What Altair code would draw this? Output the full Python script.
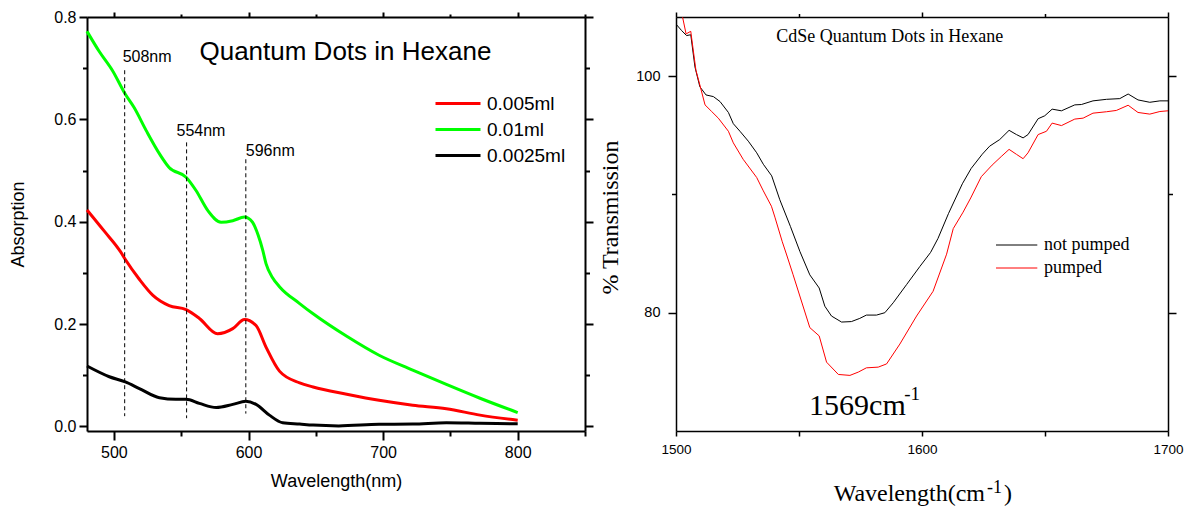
import altair as alt
import pandas as pd

# ---------------- left panel: absorption spectra ----------------
series_left = ["0.005ml", "0.01ml", "0.0025ml"]
colors_left = ["#ff0000", "#00ff00", "#000000"]

wl_red = [480, 493, 505, 508.5, 519, 529, 541, 553.6, 563.5, 577, 588.3, 597, 605.6, 613, 623, 638, 648, 673, 697, 722, 747, 772, 800]
abs_red = [0.423, 0.381, 0.341, 0.326, 0.287, 0.256, 0.236, 0.228, 0.211, 0.181, 0.191, 0.209, 0.197, 0.155, 0.108, 0.085, 0.077, 0.063, 0.051, 0.0415, 0.0345, 0.022, 0.012]

wl_green = [480, 489, 499, 508.5, 515, 524, 534, 541, 553.6, 561, 569.7, 579.6, 588.3, 597, 603, 607, 610.6, 613, 618, 623, 638, 648, 673, 697, 722, 747, 772, 800]
abs_green = [0.772, 0.733, 0.695, 0.649, 0.623, 0.578, 0.532, 0.506, 0.487, 0.461, 0.422, 0.399, 0.402, 0.409, 0.399, 0.375, 0.344, 0.318, 0.29, 0.273, 0.240, 0.220, 0.176, 0.139, 0.110, 0.082, 0.055, 0.027]

wl_black = [480, 496.6, 508.5, 518.9, 533.8, 546, 553.6, 563.5, 576, 588.3, 598, 605.6, 615.5, 625.4, 638, 648, 667, 697, 722, 747, 772, 800]
abs_black = [0.118, 0.097, 0.087, 0.074, 0.056, 0.053, 0.053, 0.045, 0.037, 0.043, 0.049, 0.043, 0.022, 0.007, 0.0045, 0.0025, 0.001, 0.004, 0.0045, 0.007, 0.006, 0.005]

peak_x = [508, 554, 598]
peak_top = [0.696, 0.555, 0.522]
peak_bottom = [0.02, 0.016, 0.025]
peak_labels = ["508nm", "554nm", "596nm"]
peak_label_x = [506.5, 546.5, 598]
peak_label_y = [0.713, 0.567, 0.528]

left_title = ["Quantum Dots in Hexane"]
left_title_x = [672]
left_title_y = [0.715]

# ---------------- right panel: transmission ----------------
series_right = ["not pumped", "pumped"]
colors_right = ["#000000", "#ff0000"]

wn_np = [1500, 1502.3, 1504.3, 1506, 1507.7, 1509.7, 1512.2, 1515.2, 1517.9, 1521.3, 1523.3, 1526, 1529.4, 1532.8, 1535.5,
         1538.9, 1542.2, 1546.5, 1550.4, 1554.4, 1558.2, 1560.5, 1563.2, 1567.3, 1571.3, 1574.7, 1577.4, 1581.5, 1584.9,
         1588.3, 1593.7, 1599.1, 1603.5, 1606.5, 1610.8, 1616.4, 1620, 1624.5, 1627.5, 1631.6, 1635.4, 1638.4, 1641.1,
         1643.1, 1647.2, 1649.9, 1652.9, 1656.7, 1662.1, 1664.8, 1669.5, 1675, 1680.4, 1683.8, 1687.8, 1692.6, 1696.7, 1700]
T_np = [104.4, 103.85, 103.43, 103.5, 100.78, 99.1, 98.41, 98.27, 97.85, 96.93, 95.98, 95.34, 94.5, 93.52, 92.55,
        91.57, 89.55, 87.3, 85.16, 83.2, 82.09, 80.55, 79.72, 79.21, 79.25, 79.52, 79.8, 79.8, 80.0,
        80.84, 82.37, 83.9, 85.1, 86.28, 88.4, 90.9, 92.2, 93.4, 94.08, 94.64, 95.42, 95.06, 94.78,
        95.06, 96.4, 96.65, 97.21, 97.07, 97.57, 97.6, 97.91, 98.04, 98.1, 98.49, 97.99, 97.79, 97.91, 97.91]

wn_p = [1501.5, 1502.7, 1504.1, 1506, 1508.1, 1509.7, 1511.8, 1514.5, 1517.2, 1521.3, 1523.3, 1527.3, 1532.8, 1535.5,
        1538.8, 1540.2, 1543.2, 1545, 1547.6, 1554.4, 1558.2, 1561.2, 1566, 1570.7, 1574.1, 1577.4, 1582.2, 1585.6,
        1591, 1597.8, 1604.5, 1610, 1612.7, 1616.7, 1619.8, 1624.1, 1628.5, 1632.2, 1635.4, 1638.4, 1641.1, 1643.1,
        1647.2, 1650.6, 1652.9, 1656.7, 1662.1, 1665.5, 1669.5, 1675, 1679, 1683.8, 1687.8, 1692.6, 1696.7, 1700]
T_p = [106.0, 104.96, 103.57, 103.79, 100.5, 99.25, 97.57, 97.01, 96.45, 95.34, 94.36, 92.97, 91.43, 90.3,
       89.0, 88.08, 86.0, 84.88, 83.21, 78.74, 78.04, 75.82, 74.78, 74.7, 74.98, 75.34, 75.4, 75.67,
       77.35, 79.72, 81.81, 84.95, 87.11, 88.5, 89.7, 91.5, 92.48, 93.2, 93.81, 93.39, 93.02, 93.52,
       95.06, 95.34, 96.03, 95.82, 96.37, 96.45, 96.87, 96.99, 97.1, 97.54, 96.93, 96.79, 97.01, 97.07]

right_title = ["CdSe Quantum Dots in Hexane"]
right_title_x = [1586.9]
right_title_y = [102.87]
peak_text = ["1569cm"]
peak_text_x = [1554.1]
peak_text_y = [71.35]
peak_sup = ["-1"]
peak_sup_x = [1592.8]
peak_sup_y = [72.6]

# ---------------- tables ----------------
left_rows = []
for name, xs, ys in zip(series_left, [wl_red, wl_green, wl_black], [abs_red, abs_green, abs_black]):
    for a, b in zip(xs, ys):
        left_rows.append({"wl": a, "A": b, "conc": name})
df_left = pd.DataFrame(left_rows)
df_peaks = pd.DataFrame({"x": peak_x, "top": peak_top, "bot": peak_bottom,
                         "lab": peak_labels, "lx": peak_label_x, "ly": peak_label_y})
df_ltitle = pd.DataFrame({"t": left_title, "x": left_title_x, "y": left_title_y})

right_rows = []
for name, xs, ys in zip(series_right, [wn_np, wn_p], [T_np, T_p]):
    for a, b in zip(xs, ys):
        right_rows.append({"wn": a, "T": b, "state": name})
df_right = pd.DataFrame(right_rows)
df_rtitle = pd.DataFrame({"t": right_title, "x": right_title_x, "y": right_title_y})
df_rpeak = pd.DataFrame({"t": peak_text, "x": peak_text_x, "y": peak_text_y})
df_rsup = pd.DataFrame({"t": peak_sup, "x": peak_sup_x, "y": peak_sup_y})

# ---------------- left chart ----------------
WL, HL = 498, 414
SANS = "Liberation Sans"
SERIF = "Liberation Serif"

sxL = alt.Scale(domain=[480, 850], nice=False, zero=False)
syL = alt.Scale(domain=[-0.009, 0.8], nice=False, zero=False)
xvalsL = [500, 550, 600, 650, 700, 750, 800, 850]
yvalsL = [0, 0.1, 0.2, 0.3, 0.4, 0.5, 0.6, 0.7, 0.8]
tx_major = "datum.value % 100 === 0"
ty_major = "round(datum.value * 10) % 2 === 0"

axL_common = dict(domainColor="black", domainWidth=2, tickColor="black", tickWidth=2,
                  labelColor="black", labelFont=SANS, labelFontSize=16, grid=False,
                  labelFlush=False, labelOverlap=False, titleFont=SANS, titleFontSize=18,
                  titleFontWeight="normal", titleColor="black")

lines_left = alt.Chart(df_left).mark_line(strokeWidth=3, interpolate="monotone").encode(
    x=alt.X("wl:Q", scale=sxL, axis=alt.Axis(
        orient="bottom", values=xvalsL, title="Wavelength(nm)", titlePadding=12,
        labelExpr=tx_major + " ? datum.label : ''", labelPadding=4,
        tickSize={"condition": {"test": tx_major, "value": 9}, "value": 5}, **axL_common)),
    y=alt.Y("A:Q", scale=syL, axis=alt.Axis(
        orient="left", values=yvalsL, title="Absorption", titlePadding=26, labelPadding=3,
        labelExpr=ty_major + " ? format(datum.value, '.1f') : ''",
        tickSize={"condition": {"test": ty_major, "value": 8}, "value": 4.5}, **axL_common)),
    color=alt.Color("conc:N", scale=alt.Scale(domain=series_left, range=colors_left),
                    legend=alt.Legend(orient="none", legendX=344, legendY=77, title=None,
                                      symbolType="M -1 0 L 8 0", symbolSize=100,
                                      symbolStrokeWidth=3, labelFont=SANS, labelFontSize=19,
                                      labelColor="black", labelOffset=37, rowPadding=6, padding=0)),
)

frame_left = alt.Chart(df_left).mark_point(opacity=0, clip=True).encode(
    x=alt.X("wl:Q", scale=sxL, axis=alt.Axis(
        orient="top", values=xvalsL, labels=False, title=None,
        tickSize={"condition": {"test": tx_major, "value": 5}, "value": 3}, **axL_common)),
    y=alt.Y("A:Q", scale=syL, axis=alt.Axis(
        orient="right", values=yvalsL, labels=False, title=None,
        tickSize={"condition": {"test": ty_major, "value": 8}, "value": 4.5}, **axL_common)),
)

rules_left = alt.Chart(df_peaks).mark_rule(color="black", strokeWidth=1, strokeDash=[4, 3]).encode(
    x=alt.X("x:Q", scale=sxL, axis=None),
    y=alt.Y("top:Q", scale=syL, axis=None),
    y2="bot:Q",
)

peak_texts = alt.Chart(df_peaks).mark_text(font=SANS, fontSize=16, align="left",
                                           baseline="alphabetic", color="black").encode(
    x=alt.X("lx:Q", scale=sxL, axis=None),
    y=alt.Y("ly:Q", scale=syL, axis=None),
    text="lab:N",
)

title_left = alt.Chart(df_ltitle).mark_text(font=SANS, fontSize=26, align="center",
                                            baseline="alphabetic", color="black").encode(
    x=alt.X("x:Q", scale=sxL, axis=None),
    y=alt.Y("y:Q", scale=syL, axis=None),
    text="t:N",
)

left = alt.layer(lines_left, rules_left, peak_texts, title_left, frame_left).resolve_axis(
    x="independent", y="independent").properties(width=WL, height=HL)

# ---------------- right chart ----------------
WR, HR = 492, 414
sxR = alt.Scale(domain=[1500, 1700], nice=False, zero=False)
syR = alt.Scale(domain=[70, 105], nice=False, zero=False)
xvalsR = [1500, 1550, 1600, 1650, 1700]
yvalsR = [80, 90, 100]
rx_major = "datum.value % 100 === 0"
ry_major = "datum.value % 20 === 0"

axR_common = dict(domainColor="black", domainWidth=1.5, tickColor="black", tickWidth=1.5,
                  labelColor="black", labelFont=SANS, grid=False,
                  labelFlush=False, labelOverlap=False, titleFont=SERIF, titleFontSize=24,
                  titleFontWeight="normal", titleColor="black")

lines_right = alt.Chart(df_right).mark_line(strokeWidth=1, clip=True).encode(
    x=alt.X("wn:Q", scale=sxR, axis=alt.Axis(
        orient="bottom", values=xvalsR, title=None, labelPadding=6, labelFontSize=13.5,
        labelExpr=rx_major + " ? format(datum.value, 'd') : ''",
        tickSize=5, **axR_common)),
    y=alt.Y("T:Q", scale=syR, axis=alt.Axis(
        orient="left", values=yvalsR, title="% Transmission", titlePadding=13, labelPadding=8,
        labelFontSize=14.5, titleY=200,
        labelExpr=ry_major + " ? format(datum.value, 'd') : ''",
        tickSize={"condition": {"test": ry_major, "value": 8}, "value": 4.5}, **axR_common)),
    color=alt.Color("state:N", scale=alt.Scale(domain=series_right, range=colors_right),
                    legend=alt.Legend(orient="none", legendX=316, legendY=219, title=None,
                                      symbolType="M -1 0 L 7.26 0", symbolSize=100,
                                      symbolStrokeWidth=1, labelFont=SERIF, labelFontSize=18,
                                      labelColor="black", labelOffset=34, rowPadding=5, padding=0)),
)

frame_right = alt.Chart(df_right).mark_point(opacity=0, clip=True).encode(
    x=alt.X("wn:Q", scale=sxR, axis=alt.Axis(
        orient="top", values=xvalsR, labels=False, title=None,
        tickSize={"condition": {"test": rx_major, "value": 5}, "value": 3.5}, **axR_common)),
    y=alt.Y("T:Q", scale=syR, axis=alt.Axis(
        orient="right", values=yvalsR, labels=False, title=None,
        tickSize={"condition": {"test": ry_major, "value": 8}, "value": 4.5}, **axR_common)),
)

rtitle = alt.Chart(df_rtitle).mark_text(font=SERIF, fontSize=18, align="center",
                                        baseline="alphabetic", color="black").encode(
    x=alt.X("x:Q", scale=sxR, axis=None), y=alt.Y("y:Q", scale=syR, axis=None), text="t:N")
rpeak = alt.Chart(df_rpeak).mark_text(font=SERIF, fontSize=30, align="left",
                                      baseline="alphabetic", color="black").encode(
    x=alt.X("x:Q", scale=sxR, axis=None), y=alt.Y("y:Q", scale=syR, axis=None), text="t:N")
rsup = alt.Chart(df_rsup).mark_text(font=SERIF, fontSize=19, align="left",
                                    baseline="alphabetic", color="black").encode(
    x=alt.X("x:Q", scale=sxR, axis=None), y=alt.Y("y:Q", scale=syR, axis=None), text="t:N")

# x-axis title built from pieces (superscript)
xt_main = alt.Chart(pd.DataFrame({"t": ["Wavelength(cm"]})).mark_text(
    font=SERIF, fontSize=24, align="right", baseline="alphabetic", color="black").encode(
    text="t:N", x=alt.value(309), y=alt.value(HR + 70))
xt_sup = alt.Chart(pd.DataFrame({"t": ["-1"]})).mark_text(
    font=SERIF, fontSize=18, align="left", baseline="alphabetic", color="black").encode(
    text="t:N", x=alt.value(311), y=alt.value(HR + 62))
xt_close = alt.Chart(pd.DataFrame({"t": [")"]})).mark_text(
    font=SERIF, fontSize=24, align="left", baseline="alphabetic", color="black").encode(
    text="t:N", x=alt.value(328), y=alt.value(HR + 70))

right = alt.layer(lines_right, rtitle, rpeak, rsup, xt_main, xt_sup, xt_close, frame_right).resolve_axis(
    x="independent", y="independent").properties(width=WR, height=HR)

chart = alt.hconcat(left, right, spacing=3).resolve_scale(color="independent").properties(
    padding={"left": 1, "top": 0, "right": 0, "bottom": 0}
).configure_view(stroke=None).configure(background="white")

chart.save("out.html", embed_options={"renderer": "svg", "actions": False})
